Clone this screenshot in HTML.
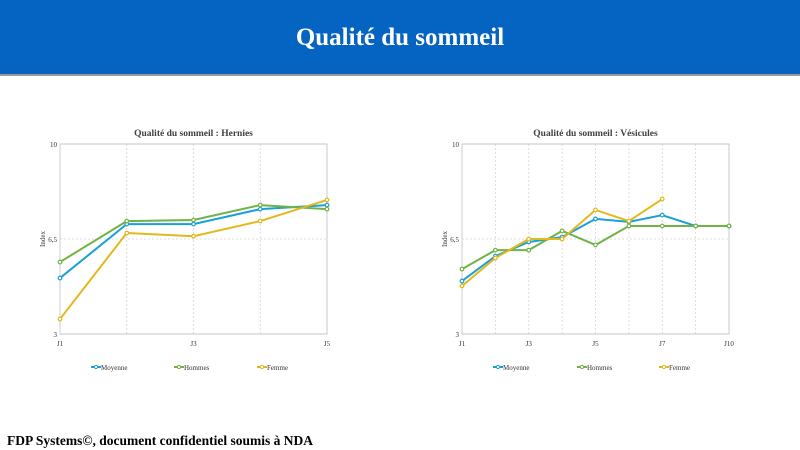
<!DOCTYPE html>
<html><head><meta charset="utf-8">
<style>
body{margin:0;width:800px;height:450px;background:#fff;overflow:hidden;font-family:"Liberation Serif",serif;position:relative}
#hdr{position:absolute;left:0;top:0;width:800px;height:74px;background:#0563c1;border-bottom:2px solid #9a9a9a}
#hdr h1{margin:0;color:#fff;font-size:25px;font-weight:bold;text-align:center;line-height:76px}
#foot{position:absolute;left:7px;top:433px;font-size:13.5px;font-weight:bold;color:#000}
svg{position:absolute;left:0;top:0}
</style></head><body>
<div id="hdr"><h1>Qualité du sommeil</h1></div>
<svg id="chart" width="800" height="450"></svg>
<div id="foot">FDP Systems©, document confidentiel soumis à NDA</div>
<script>
const herniesCats = ["J1","J2","J3","J4","J5"];
const herniesLabels = ["J1","","J3","","J5"];
const herniesMoyenne = [5.06,7.05,7.05,7.6,7.75];
const herniesHommes = [5.65,7.16,7.2,7.75,7.6];
const herniesFemme = [3.55,6.72,6.6,7.16,7.94];
const vesCats = ["J1","J2","J3","J4","J5","J6","J7","J8","J10"];
const vesLabels = ["J1","","J3","","J5","","J7","","J10"];
const vesMoyenne = [4.95,5.87,6.39,6.57,7.24,7.13,7.38,6.98,6.98];
const vesHommes = [5.39,6.09,6.09,6.8,6.28,6.98,6.98,6.98,6.98];
const vesFemme = [4.77,5.8,6.5,6.5,7.57,7.16,7.97,null,null];
const yTicks = [3,6.5,10];
const yTickLabels = ["3","6,5","10"];
const seriesNames = ["Moyenne","Hommes","Femme"];
const colors = ["#1aa0d8","#70b244","#e3b81c"];

const NS="http://www.w3.org/2000/svg";
const svg=document.getElementById('chart');
function mk(tag,attrs,parent){const e=document.createElementNS(NS,tag);for(const k in attrs)e.setAttribute(k,attrs[k]);(parent||svg).appendChild(e);return e;}

function drawChart(x0,x1,title,cats,labels,series,legendX,key){
  const y0=144,y1=334,ymin=3,ymax=10;
  const g=mk('g',{});
  
  
  const sx=i=>x0+i*(x1-x0)/(cats.length-1);
  const sy=v=>y1-(v-ymin)/(ymax-ymin)*(y1-y0);
  const t=mk('text',{x:(x0+x1)/2,y:136,'text-anchor':'middle','font-size':'9.5','font-weight':'bold',fill:'#404040','font-family':'Liberation Serif'},g);
  t.textContent=title;
  
  
  // grid
  cats.forEach((c,i)=>{ if(i>0){const l=mk('line',{x1:sx(i),x2:sx(i),y1:y0,y2:y1,stroke:'#d4d4d4','stroke-dasharray':'2,2','stroke-width':'0.8'},g);
    }});
  yTicks.forEach((v,i)=>{const l=mk('line',{x1:x0,x2:x1,y1:sy(v),y2:sy(v),stroke:i==1?'#d4d4d4':'#c8c8c8','stroke-dasharray':i==1?'2,2':'','stroke-width':'0.8'},g);
    
    const tx=mk('text',{x:x0-3,y:sy(v)+3,'text-anchor':'end','font-size':'7',fill:'#333','font-family':'Liberation Serif'},g);
    tx.textContent=yTickLabels[i];
    });
  mk('rect',{x:x0,y:y0,width:x1-x0,height:y1-y0,fill:'none',stroke:'#c0c0c0','stroke-width':'0.8'},g);
  labels.forEach((lb,i)=>{if(!lb)return;const tx=mk('text',{x:sx(i),y:y1+12,'text-anchor':'middle','font-size':'7',fill:'#333','font-family':'Liberation Serif'},g);
    tx.textContent=lb;});
  const yt=mk('text',{x:0,y:0,'font-size':'7',fill:'#333','text-anchor':'middle',transform:`translate(${x0-15},${sy(6.5)}) rotate(-90)`,'font-family':'Liberation Serif'},g);
  yt.textContent='Index';
  series.forEach((vals,s)=>{
    let d='';vals.forEach((v,i)=>{if(v==null)return;d+=(d?'L':'M')+sx(i)+','+sy(v);});
    const p=mk('path',{d:d,fill:'none',stroke:colors[s],'stroke-width':'2'},g);
    
    vals.forEach((v,i)=>{if(v==null)return;const c=mk('circle',{cx:sx(i),cy:sy(v),r:'1.8',fill:'#fff',stroke:colors[s],'stroke-width':'1.2'},g);
      });
    const lg=mk('g',{},g);
    
    const lx=legendX[s];
    mk('line',{x1:lx,x2:lx+10,y1:367,y2:367,stroke:colors[s],'stroke-width':'2'},lg);
    mk('circle',{cx:lx+5,cy:367,r:'1.6',fill:'#fff',stroke:colors[s],'stroke-width':'1'},lg);
    const lt=mk('text',{x:lx+10,y:370,'font-size':'7',fill:'#333','font-family':'Liberation Serif'},lg);
    lt.textContent=seriesNames[s];
  });
}
drawChart(60,327,'Qualité du sommeil : Hernies',herniesCats,herniesLabels,[herniesMoyenne,herniesHommes,herniesFemme],[91,174,257],'hernies');
drawChart(462,729,'Qualité du sommeil : Vésicules',vesCats,vesLabels,[vesMoyenne,vesHommes,vesFemme],[493,577,659],'vesicules');
</script>
</body></html>
